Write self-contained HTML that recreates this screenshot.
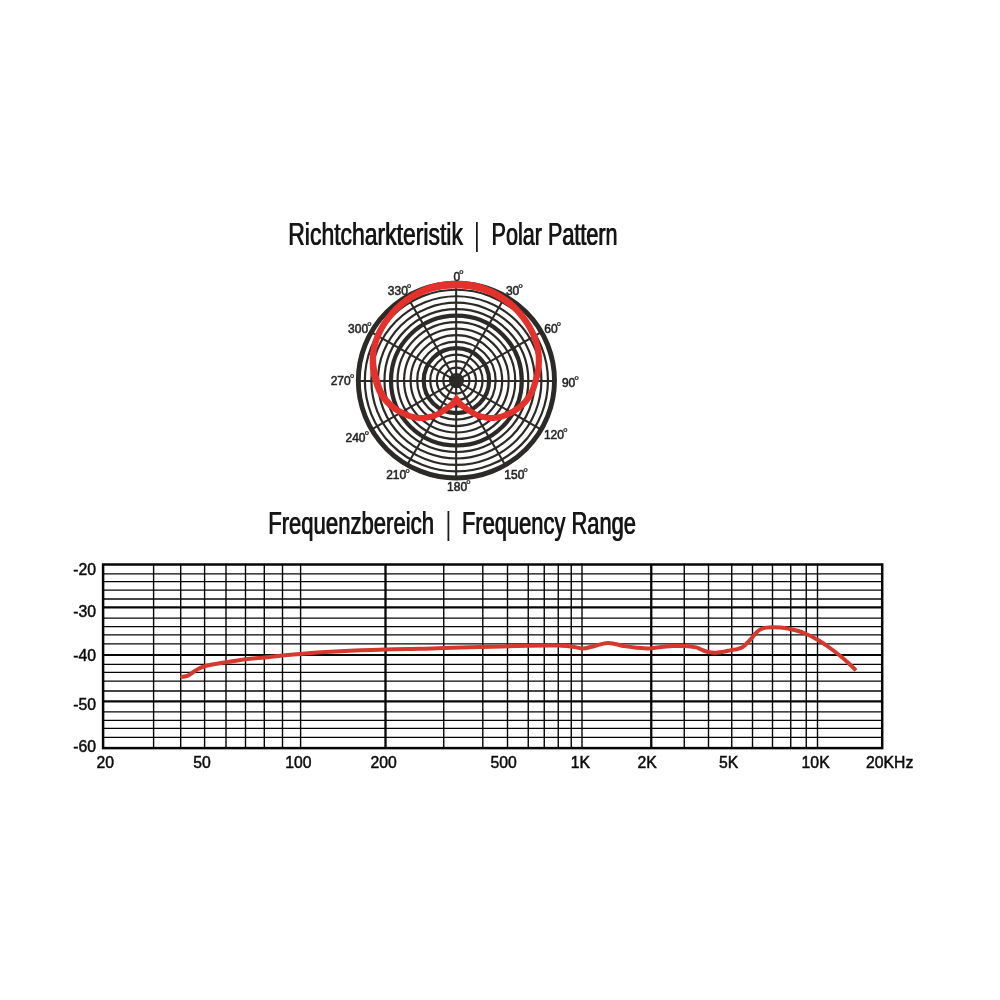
<!DOCTYPE html>
<html lang="de"><head><meta charset="utf-8"><title>Polar Pattern</title>
<style>html,body{margin:0;padding:0;background:#fff}svg{display:block}</style></head>
<body>
<svg width="1000" height="1000" viewBox="0 0 1000 1000">
<rect width="1000" height="1000" fill="#ffffff"/>
<g fill="none" stroke="#2b2a26">
<ellipse cx="456.40" cy="380.60" rx="6.54" ry="6.49" stroke-width="2.2"/>
<ellipse cx="456.40" cy="380.60" rx="13.08" ry="12.98" stroke-width="2.2"/>
<ellipse cx="456.40" cy="380.60" rx="19.62" ry="19.47" stroke-width="2.2"/>
<ellipse cx="456.40" cy="380.60" rx="26.16" ry="25.96" stroke-width="2.2"/>
<ellipse cx="456.40" cy="380.60" rx="32.70" ry="32.45" stroke-width="4.2"/>
<ellipse cx="456.40" cy="380.60" rx="39.24" ry="38.94" stroke-width="2.2"/>
<ellipse cx="456.40" cy="380.60" rx="45.78" ry="45.43" stroke-width="2.2"/>
<ellipse cx="456.40" cy="380.60" rx="52.32" ry="51.92" stroke-width="2.2"/>
<ellipse cx="456.40" cy="380.60" rx="58.86" ry="58.41" stroke-width="2.2"/>
<ellipse cx="456.40" cy="380.60" rx="65.40" ry="64.90" stroke-width="4.2"/>
<ellipse cx="456.40" cy="380.60" rx="71.94" ry="71.39" stroke-width="2.2"/>
<ellipse cx="456.40" cy="380.60" rx="78.48" ry="77.88" stroke-width="2.2"/>
<ellipse cx="456.40" cy="380.60" rx="85.02" ry="84.37" stroke-width="2.2"/>
<ellipse cx="456.40" cy="380.60" rx="91.56" ry="90.86" stroke-width="2.2"/>
<ellipse cx="456.40" cy="380.60" rx="98.10" ry="97.35" stroke-width="4.9"/>
<line x1="456.15" y1="380.90" x2="456.15" y2="283.25" stroke-width="2.05"/>
<line x1="456.15" y1="380.90" x2="505.23" y2="296.44" stroke-width="2.05"/>
<line x1="456.15" y1="380.90" x2="541.23" y2="332.18" stroke-width="2.05"/>
<line x1="456.15" y1="380.90" x2="554.50" y2="380.90" stroke-width="2.05"/>
<line x1="456.15" y1="380.90" x2="541.23" y2="429.53" stroke-width="2.05"/>
<line x1="456.15" y1="380.90" x2="505.23" y2="465.06" stroke-width="2.05"/>
<line x1="456.15" y1="380.90" x2="456.15" y2="477.95" stroke-width="2.05"/>
<line x1="456.15" y1="380.90" x2="407.13" y2="465.06" stroke-width="2.05"/>
<line x1="456.15" y1="380.90" x2="371.32" y2="429.53" stroke-width="2.05"/>
<line x1="456.15" y1="380.90" x2="358.30" y2="380.90" stroke-width="2.05"/>
<line x1="456.15" y1="380.90" x2="371.32" y2="332.18" stroke-width="2.05"/>
<line x1="456.15" y1="380.90" x2="407.13" y2="296.44" stroke-width="2.05"/>
</g>
<circle cx="456.40" cy="380.60" r="5.7" fill="#2b2a26"/>
<defs><clipPath id="cr"><rect x="456.00" y="250" width="150" height="200"/></clipPath><clipPath id="cl"><rect x="306.80" y="250" width="150" height="200"/></clipPath></defs>
<path d="M438.41 282.52 L440.58 282.27 L442.74 281.99 L444.93 281.70 L447.15 281.40 L449.41 281.13 L451.71 280.91 L454.04 280.76 L456.38 280.70 L458.71 280.73 L461.03 280.82 L463.36 280.97 L465.69 281.18 L468.00 281.45 L470.29 281.77 L472.53 282.14 L474.73 282.57 L476.89 283.06 L479.00 283.61 L481.06 284.22 L483.09 284.88 L485.09 285.59 L487.06 286.34 L489.00 287.14 L490.93 287.98 L492.87 288.87 L494.80 289.83 L496.70 290.83 L498.58 291.87 L500.42 292.95 L502.23 294.05 L503.98 295.18 L505.69 296.32 L507.34 297.46 L508.94 298.62 L510.51 299.80 L512.05 301.02 L513.57 302.29 L515.07 303.61 L516.55 305.00 L518.02 306.46 L519.50 308.02 L520.97 309.66 L522.43 311.36 L523.85 313.11 L525.24 314.88 L526.57 316.66 L527.84 318.43 L529.03 320.16 L530.15 321.87 L531.21 323.59 L532.21 325.30 L533.15 327.01 L534.04 328.72 L534.88 330.43 L535.67 332.13 L536.42 333.84 L537.13 335.56 L537.79 337.30 L538.40 339.04 L538.96 340.78 L539.47 342.51 L539.94 344.22 L540.35 345.90 L540.72 347.56 L541.04 349.20 L541.31 350.81 L541.52 352.40 L541.69 353.96 L541.81 355.51 L541.89 357.04 L541.94 358.58 L541.97 360.12 L541.95 361.72 L541.89 363.35 L541.79 364.98 L541.66 366.60 L541.50 368.18 L541.32 369.71 L541.12 371.17 L540.91 372.55 L540.68 373.86 L540.43 375.08 L540.15 376.21 L539.85 377.28 L539.55 378.31 L539.25 379.31 L538.94 380.31 L538.63 381.36 L538.32 382.46 L538.01 383.61 L537.68 384.81 L537.34 386.05 L536.96 387.31 L536.54 388.60 L536.07 389.89 L535.55 391.16 L535.00 392.39 L534.43 393.60 L533.83 394.81 L533.18 396.02 L532.48 397.23 L531.73 398.42 L530.94 399.61 L530.08 400.78 L529.17 401.92 L528.22 403.04 L527.22 404.14 L526.18 405.22 L525.10 406.28 L523.99 407.31 L522.85 408.31 L521.69 409.27 L520.49 410.22 L519.25 411.14 L517.98 412.04 L516.68 412.91 L515.37 413.74 L514.05 414.53 L512.72 415.27 L511.40 415.96 L510.06 416.61 L508.70 417.22 L507.33 417.78 L505.96 418.29 L504.61 418.76 L503.29 419.18 L502.00 419.56 L500.77 419.90 L499.57 420.19 L498.42 420.43 L497.30 420.62 L496.21 420.77 L495.15 420.87 L494.11 420.94 L493.08 420.98 L492.03 421.00 L490.95 420.99 L489.87 420.96 L488.79 420.89 L487.70 420.79 L486.62 420.66 L485.54 420.50 L484.46 420.31 L483.39 420.09 L482.32 419.84 L481.26 419.57 L480.19 419.27 L479.11 418.93 L478.03 418.56 L476.95 418.16 L475.87 417.71 L474.77 417.23 L473.65 416.68 L472.52 416.07 L471.40 415.42 L470.31 414.76 L469.24 414.10 L468.23 413.45 L467.27 412.83 L466.38 412.26 L465.52 411.71 L464.69 411.16 L463.90 410.62 L463.15 410.11 L462.45 409.61 L461.79 409.13 L461.17 408.67 L460.59 408.24 L460.06 407.85 L459.57 407.48 L459.12 407.13 L458.68 406.78 L458.25 406.41 L457.82 406.03 L457.40 405.63 L456.96 405.18 L456.53 404.71 L456.13 404.25 L455.77 403.79 L455.43 403.34 L455.09 402.88 L454.74 402.40 L454.34 401.87 L453.88 401.27 L453.31 400.55 L452.68 399.74 L451.99 398.87 L451.27 397.94 L450.53 397.00 L449.78 396.04 L449.04 395.10 L448.33 394.19 L453.37 390.24 L454.08 391.15 L454.82 392.09 L455.57 393.05 L456.31 394.00 L457.03 394.92 L457.72 395.79 L458.35 396.60 L458.92 397.33 L459.43 397.99 L459.87 398.57 L460.24 399.07 L460.56 399.50 L460.84 399.86 L461.10 400.19 L461.35 400.49 L461.64 400.82 L461.94 401.14 L462.23 401.44 L462.51 401.71 L462.80 401.99 L463.12 402.28 L463.49 402.59 L463.92 402.95 L464.41 403.36 L464.95 403.80 L465.52 404.27 L466.12 404.75 L466.75 405.24 L467.41 405.75 L468.10 406.27 L468.84 406.80 L469.62 407.34 L470.49 407.92 L471.42 408.54 L472.39 409.18 L473.38 409.81 L474.38 410.43 L475.36 411.00 L476.31 411.52 L477.23 411.97 L478.13 412.37 L479.05 412.74 L479.97 413.07 L480.89 413.37 L481.81 413.64 L482.74 413.89 L483.68 414.11 L484.61 414.31 L485.54 414.49 L486.46 414.64 L487.38 414.76 L488.30 414.86 L489.21 414.93 L490.13 414.98 L491.05 415.00 L491.97 415.00 L492.90 414.98 L493.80 414.95 L494.67 414.89 L495.54 414.81 L496.41 414.70 L497.30 414.55 L498.24 414.35 L499.23 414.10 L500.31 413.79 L501.44 413.43 L502.62 413.02 L503.82 412.57 L505.03 412.08 L506.24 411.56 L507.43 411.01 L508.60 410.44 L509.77 409.82 L510.96 409.16 L512.16 408.46 L513.36 407.72 L514.54 406.96 L515.69 406.17 L516.79 405.36 L517.85 404.53 L518.87 403.68 L519.87 402.79 L520.85 401.86 L521.79 400.92 L522.70 399.95 L523.56 398.98 L524.38 398.00 L525.14 397.02 L525.86 396.05 L526.52 395.05 L527.15 394.04 L527.75 393.00 L528.32 391.95 L528.86 390.88 L529.37 389.79 L529.85 388.72 L530.29 387.66 L530.68 386.58 L531.04 385.47 L531.38 384.33 L531.71 383.16 L532.02 381.99 L532.34 380.81 L532.67 379.64 L533.00 378.53 L533.32 377.49 L533.61 376.52 L533.89 375.59 L534.15 374.66 L534.38 373.70 L534.60 372.69 L534.79 371.56 L534.98 370.30 L535.17 368.93 L535.33 367.50 L535.48 366.03 L535.61 364.54 L535.70 363.04 L535.75 361.57 L535.77 360.14 L535.75 358.72 L535.70 357.31 L535.63 355.92 L535.52 354.53 L535.37 353.13 L535.18 351.73 L534.95 350.30 L534.66 348.84 L534.31 347.34 L533.92 345.80 L533.48 344.23 L533.00 342.65 L532.48 341.06 L531.90 339.47 L531.29 337.89 L530.63 336.32 L529.93 334.75 L529.18 333.17 L528.40 331.60 L527.57 330.03 L526.69 328.46 L525.76 326.89 L524.78 325.32 L523.73 323.75 L522.60 322.14 L521.40 320.50 L520.12 318.84 L518.80 317.19 L517.45 315.56 L516.08 314.00 L514.70 312.50 L513.34 311.11 L511.99 309.81 L510.62 308.58 L509.25 307.42 L507.85 306.30 L506.42 305.21 L504.95 304.15 L503.43 303.10 L501.86 302.06 L500.24 301.02 L498.57 300.00 L496.87 298.99 L495.14 298.02 L493.39 297.09 L491.62 296.20 L489.84 295.36 L488.06 294.58 L486.26 293.85 L484.45 293.16 L482.63 292.52 L480.80 291.92 L478.95 291.37 L477.07 290.88 L475.17 290.42 L473.23 290.02 L471.23 289.67 L469.18 289.36 L467.08 289.10 L464.95 288.88 L462.80 288.72 L460.66 288.60 L458.52 288.52 L456.42 288.50 L454.37 288.54 L452.30 288.66 L450.20 288.84 L448.07 289.07 L445.90 289.33 L443.69 289.59 L441.45 289.85 L439.22 290.08Z" fill="#e4312b" clip-path="url(#cr)"/>
<g clip-path="url(#cl)"><path d="M438.42 282.42 L440.59 282.19 L442.75 281.92 L444.94 281.64 L447.17 281.36 L449.43 281.11 L451.72 280.90 L454.05 280.75 L456.38 280.70 L458.70 280.73 L461.02 280.81 L463.35 280.95 L465.67 281.15 L467.98 281.40 L470.26 281.70 L472.51 282.06 L474.72 282.47 L476.87 282.94 L478.99 283.46 L481.06 284.04 L483.10 284.67 L485.11 285.36 L487.09 286.09 L489.05 286.86 L491.00 287.68 L492.95 288.56 L494.89 289.50 L496.81 290.50 L498.70 291.53 L500.56 292.60 L502.38 293.70 L504.15 294.82 L505.87 295.96 L507.53 297.10 L509.15 298.26 L510.73 299.45 L512.28 300.67 L513.80 301.94 L515.31 303.26 L516.80 304.64 L518.29 306.09 L519.78 307.63 L521.27 309.26 L522.76 310.94 L524.21 312.67 L525.63 314.43 L527.00 316.19 L528.30 317.94 L529.53 319.66 L530.69 321.36 L531.79 323.06 L532.84 324.76 L533.83 326.46 L534.76 328.17 L535.65 329.87 L536.48 331.58 L537.27 333.30 L538.00 335.04 L538.69 336.79 L539.31 338.55 L539.89 340.31 L540.41 342.06 L540.88 343.79 L541.31 345.49 L541.70 347.16 L542.03 348.82 L542.31 350.44 L542.54 352.05 L542.72 353.63 L542.86 355.19 L542.96 356.75 L543.04 358.30 L543.09 359.86 L543.11 361.47 L543.09 363.12 L543.04 364.78 L542.95 366.42 L542.84 368.04 L542.70 369.60 L542.54 371.10 L542.35 372.53 L542.13 373.88 L541.87 375.15 L541.59 376.33 L541.28 377.44 L540.96 378.50 L540.64 379.52 L540.32 380.53 L539.99 381.58 L539.65 382.69 L539.29 383.85 L538.91 385.06 L538.51 386.31 L538.07 387.58 L537.59 388.87 L537.06 390.17 L536.49 391.45 L535.89 392.68 L535.28 393.90 L534.63 395.11 L533.94 396.33 L533.20 397.54 L532.41 398.74 L531.57 399.93 L530.68 401.09 L529.74 402.23 L528.75 403.35 L527.72 404.45 L526.65 405.53 L525.54 406.58 L524.39 407.60 L523.22 408.60 L522.01 409.55 L520.76 410.48 L519.46 411.38 L518.13 412.24 L516.78 413.07 L515.42 413.86 L514.06 414.60 L512.71 415.31 L511.38 415.98 L510.04 416.61 L508.67 417.20 L507.31 417.76 L505.94 418.27 L504.60 418.74 L503.29 419.17 L502.01 419.56 L500.77 419.90 L499.57 420.19 L498.42 420.43 L497.30 420.62 L496.21 420.77 L495.15 420.87 L494.11 420.94 L493.08 420.98 L492.03 421.00 L490.95 420.99 L489.87 420.96 L488.79 420.89 L487.70 420.79 L486.62 420.66 L485.54 420.50 L484.46 420.31 L483.39 420.09 L482.32 419.84 L481.26 419.57 L480.19 419.27 L479.11 418.93 L478.03 418.56 L476.95 418.16 L475.87 417.71 L474.77 417.23 L473.65 416.68 L472.52 416.07 L471.40 415.42 L470.31 414.76 L469.24 414.10 L468.23 413.45 L467.27 412.83 L466.38 412.26 L465.52 411.71 L464.69 411.16 L463.90 410.62 L463.15 410.11 L462.45 409.61 L461.79 409.13 L461.17 408.67 L460.59 408.24 L460.06 407.85 L459.57 407.48 L459.12 407.13 L458.68 406.78 L458.25 406.41 L457.82 406.03 L457.40 405.63 L456.96 405.18 L456.53 404.71 L456.13 404.25 L455.77 403.79 L455.43 403.34 L455.09 402.88 L454.74 402.40 L454.34 401.87 L453.88 401.27 L453.31 400.55 L452.68 399.74 L451.99 398.87 L451.27 397.94 L450.53 397.00 L449.78 396.04 L449.04 395.10 L448.33 394.19 L453.37 390.24 L454.08 391.15 L454.82 392.09 L455.57 393.05 L456.31 394.00 L457.03 394.92 L457.72 395.79 L458.35 396.60 L458.92 397.33 L459.43 397.99 L459.87 398.57 L460.24 399.07 L460.56 399.50 L460.84 399.86 L461.10 400.19 L461.35 400.49 L461.64 400.82 L461.94 401.14 L462.23 401.44 L462.51 401.71 L462.80 401.99 L463.12 402.28 L463.49 402.59 L463.92 402.95 L464.41 403.36 L464.95 403.80 L465.52 404.27 L466.12 404.75 L466.75 405.24 L467.41 405.75 L468.10 406.27 L468.84 406.80 L469.62 407.34 L470.49 407.92 L471.42 408.54 L472.39 409.18 L473.38 409.81 L474.38 410.43 L475.36 411.00 L476.31 411.52 L477.23 411.97 L478.13 412.37 L479.05 412.74 L479.97 413.07 L480.89 413.37 L481.81 413.64 L482.74 413.89 L483.68 414.11 L484.61 414.31 L485.54 414.49 L486.46 414.64 L487.38 414.76 L488.30 414.86 L489.21 414.93 L490.13 414.98 L491.05 415.00 L491.97 415.00 L492.90 414.98 L493.80 414.95 L494.67 414.89 L495.54 414.81 L496.41 414.70 L497.30 414.55 L498.24 414.35 L499.23 414.10 L500.30 413.79 L501.43 413.43 L502.61 413.03 L503.81 412.58 L505.02 412.09 L506.23 411.57 L507.44 411.01 L508.62 410.42 L509.81 409.79 L511.03 409.12 L512.25 408.40 L513.47 407.66 L514.66 406.88 L515.82 406.09 L516.93 405.27 L517.99 404.45 L519.01 403.59 L520.02 402.69 L520.99 401.77 L521.94 400.82 L522.85 399.86 L523.72 398.88 L524.55 397.89 L525.32 396.91 L526.04 395.93 L526.71 394.93 L527.35 393.91 L527.96 392.87 L528.54 391.82 L529.09 390.74 L529.62 389.65 L530.11 388.57 L530.55 387.51 L530.94 386.43 L531.31 385.30 L531.66 384.15 L531.99 382.98 L532.32 381.79 L532.66 380.60 L533.01 379.42 L533.38 378.28 L533.74 377.23 L534.07 376.26 L534.39 375.32 L534.69 374.41 L534.96 373.47 L535.21 372.47 L535.45 371.37 L535.67 370.11 L535.89 368.75 L536.10 367.32 L536.28 365.84 L536.44 364.34 L536.57 362.84 L536.65 361.35 L536.69 359.90 L536.68 358.46 L536.65 357.03 L536.59 355.62 L536.49 354.21 L536.35 352.80 L536.16 351.38 L535.93 349.94 L535.63 348.47 L535.28 346.94 L534.89 345.38 L534.44 343.80 L533.94 342.20 L533.40 340.60 L532.81 339.01 L532.18 337.42 L531.51 335.85 L530.78 334.27 L530.02 332.70 L529.21 331.13 L528.35 329.56 L527.44 327.99 L526.48 326.42 L525.46 324.85 L524.38 323.28 L523.22 321.68 L521.98 320.05 L520.67 318.40 L519.31 316.76 L517.92 315.15 L516.51 313.59 L515.11 312.10 L513.71 310.71 L512.33 309.41 L510.95 308.17 L509.56 307.00 L508.15 305.87 L506.71 304.78 L505.23 303.72 L503.71 302.68 L502.13 301.64 L500.50 300.61 L498.82 299.60 L497.10 298.62 L495.35 297.67 L493.58 296.76 L491.79 295.89 L490.00 295.07 L488.20 294.32 L486.39 293.61 L484.57 292.94 L482.74 292.32 L480.90 291.75 L479.04 291.23 L477.15 290.75 L475.23 290.32 L473.28 289.93 L471.28 289.59 L469.22 289.30 L467.11 289.05 L464.98 288.85 L462.83 288.70 L460.67 288.59 L458.53 288.52 L456.42 288.50 L454.35 288.54 L452.28 288.65 L450.17 288.82 L448.03 289.04 L445.86 289.28 L443.65 289.53 L441.41 289.77 L439.18 289.98Z" fill="#e4312b" transform="translate(912.80 0) scale(-1 1)"/></g>
<g font-family="'Liberation Sans', Arial, sans-serif" font-size="12.0" fill="#262626" stroke="#262626" stroke-width="0.55">
<text x="453.4" y="281.0">0<tspan font-size="13" dx="-1.3" dy="-1.7" stroke-width="0.3">°</tspan></text>
<text x="387.8" y="294.6">330<tspan font-size="13" dx="-1.3" dy="-1.7" stroke-width="0.3">°</tspan></text>
<text x="505.9" y="294.8">30<tspan font-size="13" dx="-1.3" dy="-1.7" stroke-width="0.3">°</tspan></text>
<text x="348.1" y="332.8">300<tspan font-size="13" dx="-1.3" dy="-1.7" stroke-width="0.3">°</tspan></text>
<text x="544.3" y="333.0">60<tspan font-size="13" dx="-1.3" dy="-1.7" stroke-width="0.3">°</tspan></text>
<text x="330.7" y="384.6">270<tspan font-size="13" dx="-1.3" dy="-1.7" stroke-width="0.3">°</tspan></text>
<text x="561.9" y="386.8">90<tspan font-size="13" dx="-1.3" dy="-1.7" stroke-width="0.3">°</tspan></text>
<text x="345.5" y="441.9">240<tspan font-size="13" dx="-1.3" dy="-1.7" stroke-width="0.3">°</tspan></text>
<text x="543.9" y="439.0">120<tspan font-size="13" dx="-1.3" dy="-1.7" stroke-width="0.3">°</tspan></text>
<text x="386.2" y="479.2">210<tspan font-size="13" dx="-1.3" dy="-1.7" stroke-width="0.3">°</tspan></text>
<text x="504.3" y="478.6">150<tspan font-size="13" dx="-1.3" dy="-1.7" stroke-width="0.3">°</tspan></text>
<text x="447.1" y="491.0">180<tspan font-size="13" dx="-1.3" dy="-1.7" stroke-width="0.3">°</tspan></text>
</g>
<text id="tt1" x="288.0" y="245.3" font-family="'Liberation Sans', Arial, sans-serif" font-size="31" fill="#161616" stroke="#161616" stroke-width="0.2" textLength="174.6" lengthAdjust="spacingAndGlyphs">Richtcharkteristik</text>
<use href="#tt1" x="0.54"/>
<text transform="translate(477 245.3) scale(0.72 1)" text-anchor="middle" font-family="'Liberation Sans', Arial, sans-serif" font-size="31" fill="#1c1c1c">|</text>
<text id="tt2" x="491.3" y="245.3" font-family="'Liberation Sans', Arial, sans-serif" font-size="31" fill="#161616" stroke="#161616" stroke-width="0.2" textLength="126.0" lengthAdjust="spacingAndGlyphs">Polar Pattern</text>
<use href="#tt2" x="0.54"/>
<text id="tt3" x="267.9" y="534.0" font-family="'Liberation Sans', Arial, sans-serif" font-size="31" fill="#161616" stroke="#161616" stroke-width="0.2" textLength="165.8" lengthAdjust="spacingAndGlyphs">Frequenzbereich</text>
<use href="#tt3" x="0.54"/>
<text transform="translate(448.3 534.0) scale(0.72 1)" text-anchor="middle" font-family="'Liberation Sans', Arial, sans-serif" font-size="31" fill="#1c1c1c">|</text>
<text id="tt4" x="461.7" y="534.0" font-family="'Liberation Sans', Arial, sans-serif" font-size="31" fill="#161616" stroke="#161616" stroke-width="0.2" textLength="174.0" lengthAdjust="spacingAndGlyphs">Frequency Range</text>
<use href="#tt4" x="0.54"/>
<g stroke="#060606" fill="none">
<line x1="103.1" y1="573.80" x2="882.2" y2="573.80" stroke-width="1.3"/>
<line x1="103.1" y1="581.60" x2="882.2" y2="581.60" stroke-width="1.3"/>
<line x1="103.1" y1="590.20" x2="882.2" y2="590.20" stroke-width="1.3"/>
<line x1="103.1" y1="599.00" x2="882.2" y2="599.00" stroke-width="1.3"/>
<line x1="103.1" y1="618.20" x2="882.2" y2="618.20" stroke-width="1.3"/>
<line x1="103.1" y1="626.60" x2="882.2" y2="626.60" stroke-width="1.3"/>
<line x1="103.1" y1="634.80" x2="882.2" y2="634.80" stroke-width="1.3"/>
<line x1="103.1" y1="643.80" x2="882.2" y2="643.80" stroke-width="1.3"/>
<line x1="103.1" y1="664.30" x2="882.2" y2="664.30" stroke-width="1.3"/>
<line x1="103.1" y1="672.40" x2="882.2" y2="672.40" stroke-width="1.3"/>
<line x1="103.1" y1="681.20" x2="882.2" y2="681.20" stroke-width="1.3"/>
<line x1="103.1" y1="691.00" x2="882.2" y2="691.00" stroke-width="1.3"/>
<line x1="103.1" y1="711.80" x2="882.2" y2="711.80" stroke-width="1.3"/>
<line x1="103.1" y1="720.40" x2="882.2" y2="720.40" stroke-width="1.3"/>
<line x1="103.1" y1="728.40" x2="882.2" y2="728.40" stroke-width="1.3"/>
<line x1="103.1" y1="737.40" x2="882.2" y2="737.40" stroke-width="1.3"/>
<line x1="153.60" y1="564.5" x2="153.60" y2="747.6" stroke-width="1.4"/>
<line x1="180.70" y1="564.5" x2="180.70" y2="747.6" stroke-width="1.4"/>
<line x1="204.60" y1="564.5" x2="204.60" y2="747.6" stroke-width="1.4"/>
<line x1="226.00" y1="564.5" x2="226.00" y2="747.6" stroke-width="1.4"/>
<line x1="245.50" y1="564.5" x2="245.50" y2="747.6" stroke-width="1.4"/>
<line x1="264.30" y1="564.5" x2="264.30" y2="747.6" stroke-width="1.4"/>
<line x1="282.50" y1="564.5" x2="282.50" y2="747.6" stroke-width="1.4"/>
<line x1="300.60" y1="564.5" x2="300.60" y2="747.6" stroke-width="1.4"/>
<line x1="443.75" y1="564.5" x2="443.75" y2="747.6" stroke-width="1.4"/>
<line x1="482.80" y1="564.5" x2="482.80" y2="747.6" stroke-width="1.4"/>
<line x1="507.50" y1="564.5" x2="507.50" y2="747.6" stroke-width="1.4"/>
<line x1="528.25" y1="564.5" x2="528.25" y2="747.6" stroke-width="1.4"/>
<line x1="544.25" y1="564.5" x2="544.25" y2="747.6" stroke-width="1.4"/>
<line x1="558.25" y1="564.5" x2="558.25" y2="747.6" stroke-width="1.4"/>
<line x1="571.25" y1="564.5" x2="571.25" y2="747.6" stroke-width="1.4"/>
<line x1="582.00" y1="564.5" x2="582.00" y2="747.6" stroke-width="1.4"/>
<line x1="684.25" y1="564.5" x2="684.25" y2="747.6" stroke-width="1.4"/>
<line x1="708.50" y1="564.5" x2="708.50" y2="747.6" stroke-width="1.4"/>
<line x1="731.75" y1="564.5" x2="731.75" y2="747.6" stroke-width="1.4"/>
<line x1="752.50" y1="564.5" x2="752.50" y2="747.6" stroke-width="1.4"/>
<line x1="772.50" y1="564.5" x2="772.50" y2="747.6" stroke-width="1.4"/>
<line x1="790.75" y1="564.5" x2="790.75" y2="747.6" stroke-width="1.4"/>
<line x1="806.25" y1="564.5" x2="806.25" y2="747.6" stroke-width="1.4"/>
<line x1="817.50" y1="564.5" x2="817.50" y2="747.6" stroke-width="1.4"/>
<line x1="103.1" y1="607.40" x2="882.2" y2="607.40" stroke-width="2.1"/>
<line x1="103.1" y1="655.00" x2="882.2" y2="655.00" stroke-width="2.1"/>
<line x1="103.1" y1="701.40" x2="882.2" y2="701.40" stroke-width="2.1"/>
<line x1="385.50" y1="564.5" x2="385.50" y2="747.6" stroke-width="2.3"/>
<line x1="651.25" y1="564.5" x2="651.25" y2="747.6" stroke-width="2.3"/>
<rect x="103.1" y="564.5" width="779.1" height="183.6" stroke-width="2.5"/>
</g>
<path d="M182.00 676.80 C183.00 676.60 185.80 676.60 188.00 675.60 C190.20 674.60 192.40 672.37 195.20 670.80 C198.00 669.23 199.60 667.63 204.80 666.20 C210.00 664.77 219.60 663.37 226.40 662.20 C233.20 661.03 239.20 660.00 245.60 659.20 C252.00 658.40 258.60 658.00 264.80 657.40 C271.00 656.80 276.93 656.18 282.80 655.60 C288.67 655.02 290.47 654.62 300.00 653.90 C309.53 653.18 325.83 652.03 340.00 651.30 C354.17 650.57 371.67 649.92 385.00 649.50 C398.33 649.08 410.21 649.05 420.00 648.80 C429.79 648.55 433.33 648.30 443.75 648.00 C454.17 647.70 468.54 647.37 482.50 647.00 C496.46 646.63 516.25 646.07 527.50 645.80 C538.75 645.53 544.58 645.43 550.00 645.40 C555.42 645.37 556.47 645.43 560.00 645.60 C563.53 645.77 567.47 645.92 571.20 646.40 C574.93 646.88 578.93 648.45 582.40 648.50 C585.87 648.55 587.73 647.63 592.00 646.70 C596.27 645.77 602.67 643.00 608.00 642.90 C613.33 642.80 619.20 645.30 624.00 646.10 C628.80 646.90 632.53 647.30 636.80 647.70 C641.07 648.10 645.87 648.58 649.60 648.50 C653.33 648.42 655.47 647.60 659.20 647.20 C662.93 646.80 667.73 646.28 672.00 646.10 C676.27 645.92 680.80 645.88 684.80 646.10 C688.80 646.32 693.47 646.92 696.00 647.40 C698.53 647.88 698.00 648.23 700.00 649.00 C702.00 649.77 705.00 651.40 708.00 652.00 C711.00 652.60 714.33 652.87 718.00 652.60 C721.67 652.33 726.00 651.27 730.00 650.40 C734.00 649.53 738.67 649.13 742.00 647.40 C745.33 645.67 747.33 642.73 750.00 640.00 C752.67 637.27 755.33 633.07 758.00 631.00 C760.67 628.93 762.33 628.20 766.00 627.60 C769.67 627.00 776.00 627.17 780.00 627.40 C784.00 627.63 786.00 628.07 790.00 629.00 C794.00 629.93 799.33 631.17 804.00 633.00 C808.67 634.83 813.67 637.50 818.00 640.00 C822.33 642.50 825.67 644.83 830.00 648.00 C834.33 651.17 839.67 655.27 844.00 659.00 C848.33 662.73 854.00 668.50 856.00 670.40" fill="none" stroke="#d5382d" stroke-width="4" stroke-linecap="butt" stroke-linejoin="round"/>
<circle cx="182" cy="676.8" r="1.9" fill="#d5382d"/>
<g font-family="'Liberation Sans', Arial, sans-serif" font-size="16.6" fill="#0c0c0c" stroke="#0c0c0c" stroke-width="0.5">
<text transform="translate(96.1 574.5) scale(0.95 1)" text-anchor="end">-20</text>
<text transform="translate(96.1 616.6) scale(0.95 1)" text-anchor="end">-30</text>
<text transform="translate(96.1 661.2) scale(0.95 1)" text-anchor="end">-40</text>
<text transform="translate(96.1 710.2) scale(0.95 1)" text-anchor="end">-50</text>
<text transform="translate(96.1 752.1) scale(0.95 1)" text-anchor="end">-60</text>
<text transform="translate(96.4 767.9) scale(0.95 1)">20</text>
<text transform="translate(193.2 767.9) scale(0.95 1)">50</text>
<text transform="translate(285.2 767.9) scale(0.95 1)">100</text>
<text transform="translate(370.4 767.9) scale(0.95 1)">200</text>
<text transform="translate(490.5 767.9) scale(0.95 1)">500</text>
<text transform="translate(570.8 767.9) scale(0.95 1)">1K</text>
<text transform="translate(637.6 767.9) scale(0.95 1)">2K</text>
<text transform="translate(718.9 767.9) scale(0.95 1)">5K</text>
<text transform="translate(801.6 767.9) scale(0.95 1)">10K</text>
<text transform="translate(866.0 767.9) scale(0.95 1)">20KHz</text>
</g>
</svg>
</body></html>
